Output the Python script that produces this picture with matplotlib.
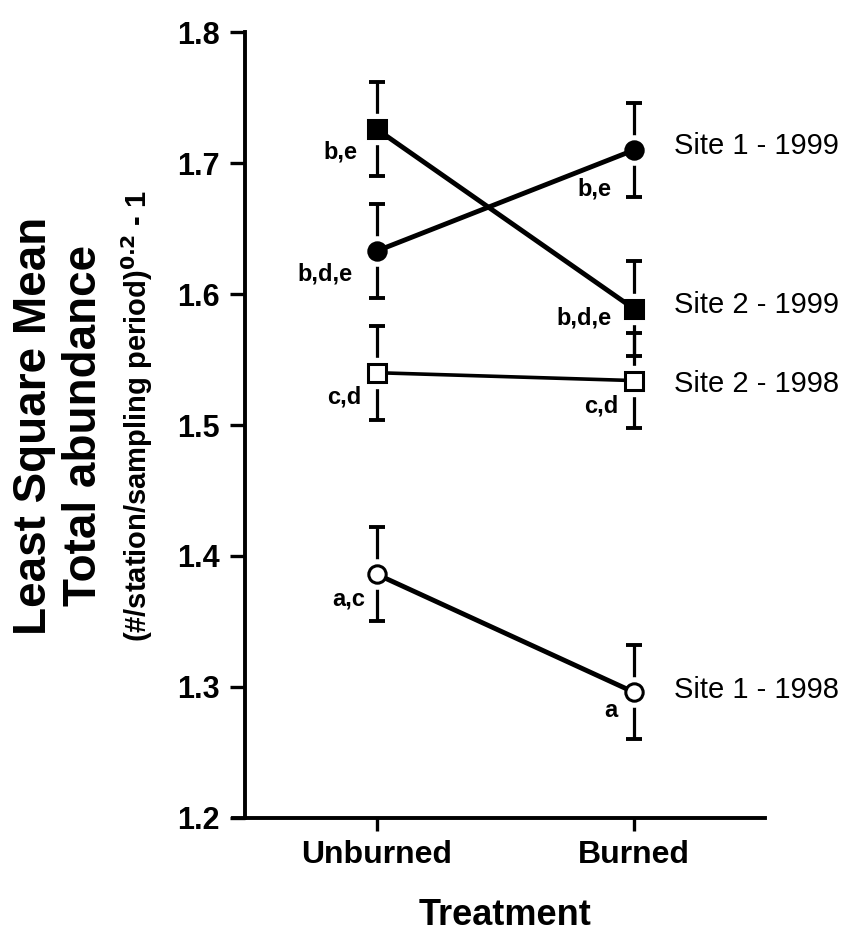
import matplotlib
matplotlib.use("Agg")
import matplotlib.pyplot as plt

plt.rcParams['font.family'] = ['Liberation Sans', 'DejaVu Sans']

# data
treatments = ["Unburned", "Burned"]
series_names = ["Site 1 - 1999", "Site 2 - 1999", "Site 2 - 1998", "Site 1 - 1998"]
site1_1999 = [1.633, 1.710]
site2_1999 = [1.726, 1.589]
site2_1998 = [1.540, 1.534]
site1_1998 = [1.386, 1.296]
site1_1999_se = [0.036, 0.036]
site2_1999_se = [0.036, 0.036]
site2_1998_se = [0.036, 0.036]
site1_1998_se = [0.036, 0.036]
site1_1999_grp = ["b,d,e", "b,e"]
site2_1999_grp = ["b,e", "b,d,e"]
site2_1998_grp = ["c,d", "c,d"]
site1_1998_grp = ["a,c", "a"]
yticks = [1.2, 1.3, 1.4, 1.5, 1.6, 1.7, 1.8]

# styles: marker, face colour, line width
styles = [("o", "black", 3.5), ("s", "black", 3.5), ("s", "white", 2.6), ("o", "white", 3.5)]
# letter offsets (pixels) for each series, unburned / burned
grp_offsets = [[(-24, -23), (-22, -39)],
               [(-19, -23), (-22, -9)],
               [(-15, -24), (-15, -25)],
               [(-12, -25), (-16, -18)]]
name_offsets = [(40, 4), (40, 4), (40, -3), (40, 2)]

means = [site1_1999, site2_1999, site2_1998, site1_1998]
errs = [site1_1999_se, site2_1999_se, site2_1998_se, site1_1998_se]
groups = [site1_1999_grp, site2_1999_grp, site2_1998_grp, site1_1998_grp]

fig = plt.figure(figsize=(8.44, 9.52), dpi=100)
ax = fig.add_axes([0.290, 0.141, 0.616, 0.825])
x = list(range(len(treatments)))

for i in range(len(means)):
    mk, face, lw = styles[i]
    ax.errorbar(x, means[i], yerr=errs[i], fmt="none", ecolor="black",
                elinewidth=2.3, capsize=6, capthick=2.8, zorder=1)
    # white halo leaves a gap between marker and error bar
    ax.plot(x, means[i], linestyle="none", marker=mk, markersize=21,
            markerfacecolor="white", markeredgecolor="white", zorder=2)
    ax.plot(x, means[i], color="black", linewidth=lw, zorder=3)
    ax.plot(x, means[i], linestyle="none", marker=mk, markersize=12.5,
            markerfacecolor=face, markeredgecolor="black", markeredgewidth=2.2, zorder=4)
    for j in x:
        ax.annotate(groups[i][j], xy=(j, means[i][j]), xytext=grp_offsets[i][j],
                    textcoords="offset pixels", ha="right", va="center",
                    fontsize=17, fontweight="bold")
    ax.annotate(series_names[i], xy=(x[-1], means[i][-1]), xytext=name_offsets[i],
                textcoords="offset pixels", ha="left", va="center", fontsize=21,
                annotation_clip=False)

ax.set_xlim(-0.514, 1.51)
ax.set_ylim(1.2, 1.8)
ax.set_yticks(yticks)
ax.set_yticklabels([f"{v:.1f}" for v in yticks], fontsize=22, fontweight="bold")
ax.set_xticks(x)
ax.set_xticklabels(treatments, fontsize=23, fontweight="bold")
ax.tick_params(axis="y", length=11, width=2.4, pad=7)
ax.tick_params(axis="x", length=9, width=2.4, pad=7)
for s in ["top", "right"]:
    ax.spines[s].set_visible(False)
for s in ["left", "bottom"]:
    ax.spines[s].set_linewidth(2.8)
ax.spines["bottom"].set_bounds(-0.56, 1.51)

ax.set_xlabel("Treatment", fontsize=26, fontweight="bold", labelpad=20)

fig.text(0.040, 0.553, "Least Square Mean", rotation=90, ha="center", va="center",
         fontsize=33, fontweight="bold")
fig.text(0.100, 0.553, "Total abundance", rotation=90, ha="center", va="center",
         fontsize=33, fontweight="bold")
fig.text(0.162, 0.563, r"(#/station/sampling period)$^{\mathbf{0.2}}$ - 1", rotation=90,
         ha="center", va="center", fontsize=21, fontweight="bold")

fig.savefig("out.png", dpi=100)
